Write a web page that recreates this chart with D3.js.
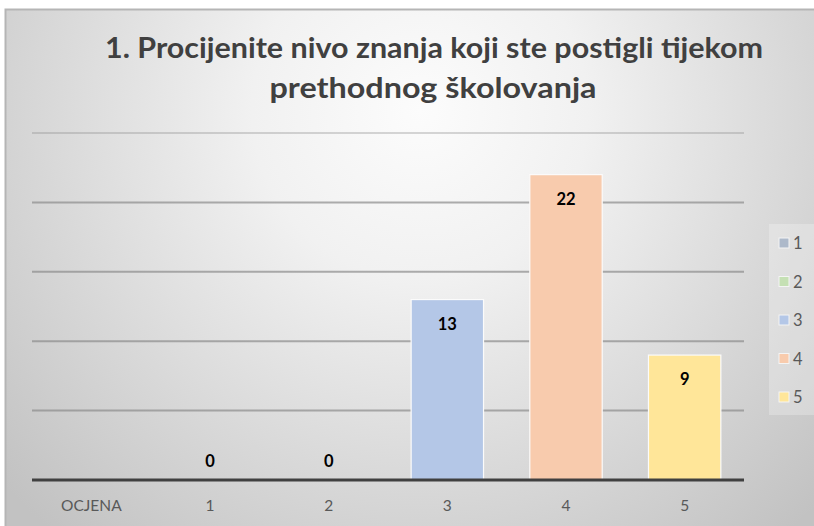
<!DOCTYPE html>
<html><head><meta charset="utf-8">
<script src="https://cdn.jsdelivr.net/npm/d3@7"></script>
<style>html,body{margin:0;padding:0;background:#fff;}svg{display:block;}</style>
</head><body>
<script>
const categories = ["OCJENA", "1", "2", "3", "4", "5"];
const seriesNames = ["1", "2", "3", "4", "5"];
const seriesValues = [0, 0, 13, 22, 9];
const seriesColors = ["#adb9ca", "#c5e0b4", "#b4c7e7", "#f8cbad", "#ffe699"];
const yTicks = [0, 5, 10, 15, 20, 25];
const titleLines = ["1. Procijenite nivo znanja  koji ste postigli tijekom", "prethodnog školovanja"];

const W = 814, H = 526;
const svg = d3.select("body").append("svg").attr("width", W).attr("height", H);
const defs = svg.append("defs");
const rg = defs.append("radialGradient").attr("id", "bg")
  .attr("gradientUnits", "userSpaceOnUse")
  .attr("cx", 420).attr("cy", 110).attr("r", 560);
rg.append("stop").attr("offset", "0").attr("stop-color", "#fcfcfc");
rg.append("stop").attr("offset", "0.3").attr("stop-color", "#f1f1f1");
rg.append("stop").attr("offset", "1").attr("stop-color", "#c2c2c2");

svg.append("rect").attr("x", 5.5).attr("y", 9.5).attr("width", W).attr("height", H)
  .attr("fill", "url(#bg)").attr("stroke", "#b5b5b5").attr("stroke-width", 2);

const x = d3.scaleBand().domain(categories).range([32, 744]).paddingInner(0.39).paddingOuter(0.195);
const y = d3.scaleLinear().domain([0, 25]).range([480, 133]);

// gridlines
svg.append("g").selectAll("line").data(yTicks.filter(d => d > 0)).join("line")
  .attr("x1", 32).attr("x2", 744)
  .attr("y1", d => y(d)).attr("y2", d => y(d))
  .attr("stroke", "#8c8c8c").attr("stroke-opacity", d => d === 25 ? 0.35 : 0.7).attr("stroke-width", 2);

// bars
const data = seriesNames.map((s, i) => ({cat: s, val: seriesValues[i], color: seriesColors[i]}));
svg.append("g").selectAll("rect").data(data.filter(d => d.val > 0)).join("rect")
  .attr("x", d => x(d.cat)).attr("width", x.bandwidth())
  .attr("y", d => y(d.val)).attr("height", d => y(0) - y(d.val))
  .attr("fill", d => d.color).attr("stroke", "#fbfbfb").attr("stroke-width", 1.2);

// baseline
svg.append("line").attr("x1", 32).attr("x2", 744).attr("y1", y(0)).attr("y2", y(0))
  .attr("stroke", "#404040").attr("stroke-width", 3);

// data labels
svg.append("g").selectAll("text").data(data).join("text")
  .attr("x", d => x(d.cat) + x.bandwidth() / 2)
  .attr("y", d => d.val > 0 ? y(d.val) + 30 : y(0) - 13)
  .attr("text-anchor", "middle")
  .attr("font-family", "Lato, 'Open Sans', sans-serif").attr("font-weight", "bold")
  .attr("font-size", 16.5).attr("fill", "#000")
  .text(d => d.val);

// x axis labels
const xAxis = d3.axisBottom(x).tickSize(0).tickPadding(0);
const gx = svg.append("g").attr("transform", `translate(0,${y(0) + 31})`).call(xAxis);
gx.select(".domain").remove();
gx.selectAll("text").attr("font-family", "Lato, 'Open Sans', sans-serif").attr("font-size", 15.5)
  .attr("fill", "#595959").attr("dy", 0);

// title
svg.append("g").selectAll("text").data(titleLines).join("text")
  .attr("x", (d, i) => i === 0 ? 434 : 433)
  .attr("y", (d, i) => 58 + i * 40)
  .attr("text-anchor", "middle")
  .attr("font-family", "Lato, 'Open Sans', sans-serif").attr("font-weight", "bold")
  .attr("font-size", 28).attr("fill", "#404040")
  .attr("textLength", (d, i) => i === 0 ? 658 : 327)
  .attr("lengthAdjust", "spacingAndGlyphs")
  .text(d => d);

// legend
const lg = svg.append("g");
lg.append("rect").attr("x", 769).attr("y", 224).attr("width", 50).attr("height", 191)
  .attr("fill", "#ffffff").attr("fill-opacity", 0.25);
const ly = d3.scalePoint().domain(seriesNames).range([243, 397]);
const items = lg.selectAll("g.item").data(data).join("g").attr("class", "item")
  .attr("transform", d => `translate(779,${ly(d.cat)})`);
items.append("rect").attr("x", 0).attr("y", -5).attr("width", 10).attr("height", 10)
  .attr("fill", d => d.color).attr("stroke", "#f4f4f4").attr("stroke-width", 1);
items.append("text").attr("x", 14).attr("y", 6)
  .attr("font-family", "Lato, 'Open Sans', sans-serif").attr("font-size", 16.5)
  .attr("fill", "#595959").text(d => d.cat);
</script>
</body></html>
